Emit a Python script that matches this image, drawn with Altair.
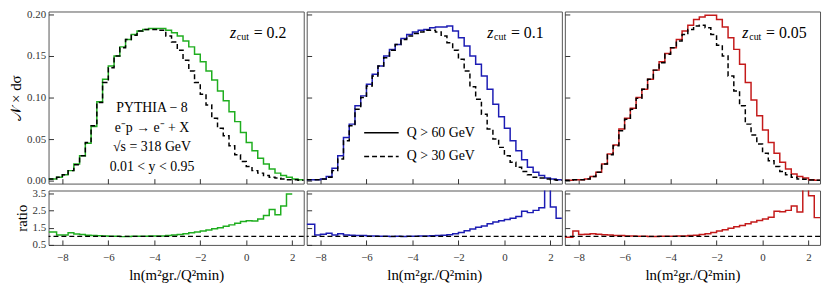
import altair as alt
import pandas as pd

FONT = "Liberation Serif"
XDOM = [-8.6, 2.5]
YDOM = [-0.0036, 0.2036]
RDOM = [0.5, 3.65]
W, HT, HR = 258, 174, 55

# bin edges of the histograms (first bin reaches the frame)
EDGES = [-8.6] + [round(-8.25 + 0.25 * i, 2) for i in range(44)]

SERIES = ["Q > 60 GeV", "Q > 30 GeV"]
ZCUT = ["0.2", "0.1", "0.05"]
COLORS = ["#1fae1f", "#1c1cb4", "#c41a1a"]

# z_cut = 0.2
Q60_Z02 = [0.002, 0.004, 0.007, 0.012, 0.020, 0.030, 0.045, 0.065, 0.095, 0.122,
           0.138, 0.150, 0.161, 0.170, 0.176, 0.180, 0.182, 0.183, 0.183, 0.183,
           0.181, 0.178, 0.174, 0.168, 0.161, 0.152, 0.143, 0.132, 0.121, 0.108,
           0.096, 0.083, 0.071, 0.058, 0.046, 0.036, 0.027, 0.020, 0.014, 0.009,
           0.006, 0.004, 0.002, 0.001]
Q30_Z02 = [0.002, 0.004, 0.007, 0.012, 0.019, 0.030, 0.046, 0.066, 0.094, 0.118,
           0.136, 0.150, 0.160, 0.170, 0.175, 0.180, 0.182, 0.182, 0.182, 0.181,
           0.174, 0.167, 0.157, 0.145, 0.132, 0.118, 0.104, 0.091, 0.075, 0.063,
           0.054, 0.042, 0.031, 0.023, 0.017, 0.012, 0.009, 0.006, 0.004, 0.003,
           0.002, 0.001, 0.001, 0.0005]
RATIO_Z02 = [1.25, 1.08, 1.08, 1.20, 1.13, 1.10, 1.06, 1.05, 1.03, 1.01,
             1.00, 1.00, 0.98, 0.99, 1.00, 1.00, 1.00, 1.01, 1.01, 1.02,
             1.05, 1.07, 1.10, 1.14, 1.20, 1.25, 1.31, 1.37, 1.43, 1.50,
             1.58, 1.66, 1.76, 1.85, 1.90, 1.88, 2.00, 2.20, 2.55, 2.25,
             2.75, 3.45, None, None]

# z_cut = 0.1
Q60_Z01 = [0.001, 0.001, 0.002, 0.005, 0.015, 0.030, 0.052, 0.068, 0.090, 0.102,
           0.116, 0.128, 0.138, 0.150, 0.158, 0.164, 0.171, 0.176, 0.179, 0.181,
           0.182, 0.184, 0.185, 0.185, 0.186, 0.180, 0.172, 0.162, 0.150, 0.140,
           0.126, 0.110, 0.092, 0.077, 0.063, 0.048, 0.036, 0.025, 0.016, 0.010,
           0.006, 0.003, 0.002, 0.001]
Q30_Z01 = [0.001, 0.001, 0.002, 0.004, 0.012, 0.026, 0.048, 0.066, 0.086, 0.100,
           0.114, 0.126, 0.138, 0.148, 0.157, 0.164, 0.170, 0.174, 0.177, 0.179,
           0.181, 0.181, 0.179, 0.174, 0.166, 0.157, 0.146, 0.132, 0.113, 0.098,
           0.080, 0.062, 0.050, 0.040, 0.030, 0.022, 0.016, 0.011, 0.007, 0.004,
           0.003, 0.002, 0.001, 0.0005]
RATIO_Z01 = [1.70, 1.08, 1.12, 1.17, 1.08, 1.14, 1.08, 1.06, 1.05, 1.04,
             1.02, 1.01, 1.00, 1.00, 0.99, 1.00, 0.99, 1.00, 1.00, 1.01,
             1.02, 1.03, 1.04, 1.06, 1.09, 1.14, 1.22, 1.32, 1.42, 1.52,
             1.60, 1.72, 1.82, 1.90, 1.97, 2.05, 2.15, 2.45, 2.37, 2.50,
             2.65, 5.00, 2.70, 2.05]

# z_cut = 0.05
Q60_Z005 = [0.0005, 0.001, 0.001, 0.002, 0.005, 0.010, 0.020, 0.032, 0.043, 0.062,
            0.075, 0.087, 0.100, 0.110, 0.122, 0.133, 0.143, 0.153, 0.160, 0.170,
            0.180, 0.187, 0.194, 0.197, 0.199, 0.199, 0.194, 0.185, 0.172, 0.158,
            0.140, 0.118, 0.097, 0.078, 0.061, 0.046, 0.033, 0.022, 0.014, 0.008,
            0.005, 0.003, 0.001, 0.0005]
Q30_Z005 = [0.0005, 0.001, 0.001, 0.002, 0.005, 0.010, 0.020, 0.031, 0.042, 0.060,
            0.074, 0.086, 0.099, 0.110, 0.122, 0.133, 0.142, 0.152, 0.160, 0.168,
            0.176, 0.182, 0.186, 0.187, 0.184, 0.176, 0.163, 0.150, 0.126, 0.108,
            0.090, 0.068, 0.055, 0.044, 0.033, 0.024, 0.017, 0.011, 0.007, 0.004,
            0.002, 0.0015, 0.0008, 0.0003]
RATIO_Z005 = [0.95, 1.30, 1.10, 1.12, 1.15, 1.12, 1.09, 1.07, 1.05, 1.04,
              1.02, 1.01, 1.00, 1.00, 0.99, 0.99, 1.00, 1.00, 1.00, 1.01,
              1.02, 1.04, 1.06, 1.10, 1.15, 1.22, 1.30, 1.38, 1.47, 1.55,
              1.63, 1.72, 1.82, 1.92, 2.00, 2.10, 2.45, 2.42, 2.50, 2.75,
              2.40, 5.00, 3.35, 2.08]

# annotations
ZCUT_X = [-0.71, -0.75, -0.88]
ZCUT_Y = 0.178
INFO_TEXT = ["PYTHIA \u2212 8", "e\u207bp \u2192 e\u207b + X", "\u221as = 318 GeV", "0.01 < y < 0.95"]
INFO_X = -4.1
INFO_Y = [0.0870, 0.0635, 0.0410, 0.0160]
# legend key (middle panel), in data units
LEG_X1, LEG_X2, LEG_XT = -6.1, -4.6, -4.25
LEG_Y = [0.0575, 0.0290]

X_MAJOR = [-8, -6, -4, -2, 0, 2]
Y_MAJOR = [0.0, 0.05, 0.10, 0.15, 0.20]
R_MAJOR = [0.5, 1.5, 2.5, 3.5]

XTITLE = "ln(m\u00b2gr./Q\u00b2min)"
YTITLE = "\U0001D4A9 \u00d7 d\u03c3"
RTITLE = "ratio"

BASE_AX = dict(tickSize=5, offset=-5, domain=False, grid=False, labelFont=FONT,
               labelFontSize=11, labelColor="#333", tickColor="#333", tickWidth=1,
               titleFont=FONT, titleFontSize=15, titleFontWeight="normal", titleColor="black")


def step_rows(vals, series):
    rows = []
    last = None
    for i, v in enumerate(vals):
        if v is None:
            continue
        rows.append({"x": EDGES[i], "y": v, "s": series})
        last = i
    rows.append({"x": EDGES[last + 1], "y": vals[last], "s": series})
    return rows


def xaxis(labels):
    kw = dict(BASE_AX, values=X_MAJOR, labels=labels, labelPadding=7)
    if labels:
        kw.update(title=XTITLE, titlePadding=5)
    else:
        kw.update(title=None)
    return alt.Axis(**kw)


def yaxis(values, labels, title, fmt):
    kw = dict(BASE_AX, values=values, labels=labels, labelPadding=3, format=fmt)
    if labels:
        kw.update(title=title, titlePadding=3)
    else:
        kw.update(title=None)
    return alt.Axis(**kw)


xs = alt.Scale(domain=XDOM, nice=False, zero=False)
ys = alt.Scale(domain=YDOM, nice=False, zero=False)
rs = alt.Scale(domain=RDOM, nice=False, zero=False)


def top_panel(k, q60, q30):
    first = k == 0
    color = COLORS[k]
    xa = xaxis(False)
    ya = yaxis(Y_MAJOR, first, YTITLE, ".2f")

    def XT(f="x"):
        return alt.X(f + ":Q", scale=xs, axis=xa)

    def YT(f="y"):
        return alt.Y(f + ":Q", scale=ys, axis=ya)

    hist = pd.DataFrame(step_rows(q60, SERIES[0]) + step_rows(q30, SERIES[1]))
    sc = alt.Scale(domain=SERIES, range=[color, "black"])
    sd = alt.Scale(domain=SERIES, range=[[1, 0], [5, 3]])
    lines = alt.Chart(hist).mark_line(interpolate="step-after", strokeWidth=1.5, clip=True).encode(
        x=XT(), y=YT(),
        color=alt.Color("s:N", scale=sc, legend=None),
        strokeDash=alt.StrokeDash("s:N", scale=sd, legend=None),
    )
    zdf = pd.DataFrame({"x": [ZCUT_X[k]], "y": [ZCUT_Y]})
    zb = alt.Chart(zdf)
    layers = [lines,
              zb.mark_text(text="z", font=FONT, fontSize=16, fontStyle="italic", align="left",
                           color="black").encode(x=XT(), y=YT()),
              zb.mark_text(text="cut", font=FONT, fontSize=10, align="left", dx=7, dy=4,
                           color="black").encode(x=XT(), y=YT()),
              zb.mark_text(text="= " + ZCUT[k], font=FONT, fontSize=16, align="left", dx=24,
                           color="black").encode(x=XT(), y=YT())]
    if first:
        idf = pd.DataFrame({"x": [INFO_X] * 4, "y": INFO_Y, "t": INFO_TEXT})
        layers.append(alt.Chart(idf).mark_text(font=FONT, fontSize=14, color="black", align="center").encode(
            x=XT(), y=YT(), text="t:N"))
    if k == 1:
        ldf = pd.DataFrame({"x": [LEG_X1] * 2, "x2": [LEG_X2] * 2, "xt": [LEG_XT] * 2,
                            "y": LEG_Y, "s": SERIES})
        lb = alt.Chart(ldf)
        layers.append(lb.mark_rule(strokeWidth=1.5, color="black").encode(
            x=XT(), x2="x2:Q", y=YT(),
            strokeDash=alt.StrokeDash("s:N", scale=sd, legend=None)))
        layers.append(lb.mark_text(font=FONT, fontSize=14, color="black", align="left").encode(
            x=XT("xt"), y=YT(), text="s:N"))
    return alt.layer(*layers).properties(width=W, height=HT)


def ratio_panel(k, ratio):
    first = k == 0
    xa = xaxis(True)
    ya = yaxis(R_MAJOR, first, RTITLE, ".1f")
    rdf = pd.DataFrame(step_rows(ratio, "ratio"))
    rline = alt.Chart(rdf).mark_line(interpolate="step-after", strokeWidth=1.5, clip=True,
                                     color=COLORS[k]).encode(
        x=alt.X("x:Q", scale=xs, axis=xa), y=alt.Y("y:Q", scale=rs, axis=ya))
    one = alt.Chart(pd.DataFrame({"y": [1.0]})).mark_rule(strokeDash=[5, 3], color="black",
                                                          strokeWidth=1.3).encode(
        y=alt.Y("y:Q", scale=rs, axis=ya))
    return alt.layer(rline, one).properties(width=W, height=HR)


RES = dict(x="independent", y="independent", color="independent", strokeDash="independent")

top_row = alt.hconcat(top_panel(0, Q60_Z02, Q30_Z02),
                      top_panel(1, Q60_Z01, Q30_Z01),
                      top_panel(2, Q60_Z005, Q30_Z005),
                      spacing=3, bounds="flush").resolve_scale(**RES)
ratio_row = alt.hconcat(ratio_panel(0, RATIO_Z02),
                        ratio_panel(1, RATIO_Z01),
                        ratio_panel(2, RATIO_Z005),
                        spacing=3, bounds="flush").resolve_scale(**RES)

chart = alt.vconcat(top_row, ratio_row, spacing=0).resolve_scale(**RES).properties(
    padding={"left": 0, "top": -2, "right": 0, "bottom": 0}
).configure_view(stroke="#555", strokeWidth=1)

chart.save("out.html", embed_options={"renderer": "svg", "actions": False})
